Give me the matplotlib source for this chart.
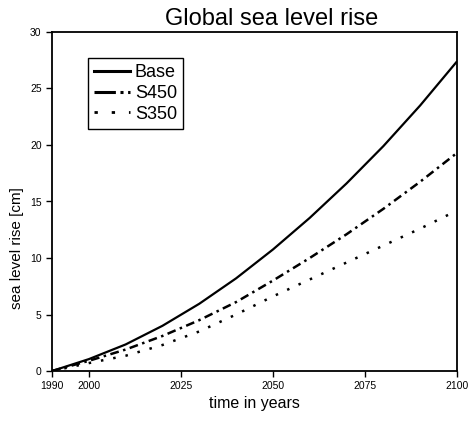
import matplotlib
matplotlib.use("Agg")
import matplotlib.pyplot as plt
from matplotlib.lines import Line2D

plt.rcParams['font.family'] = ['Liberation Sans', 'DejaVu Sans']

years = [1990, 2000, 2010, 2020, 2030, 2040, 2050, 2060, 2070, 2080, 2090, 2100]
base = [0, 1.05, 2.35, 4.0, 5.95, 8.2, 10.75, 13.55, 16.6, 19.9, 23.5, 27.4]
s450 = [0, 0.9, 1.9, 3.1, 4.5, 6.1, 8.0, 10.0, 12.1, 14.35, 16.75, 19.3]
s350 = [0, 0.7, 1.35, 2.3, 3.5, 5.0, 6.6, 8.1, 9.6, 11.1, 12.6, 14.2]
labels = ['Base', 'S450', 'S350']
xticks = [1990, 2000, 2025, 2050, 2075, 2100]
yticks = [0, 5, 10, 15, 20, 25, 30]

fig = plt.figure(figsize=(4.71, 4.23), dpi=100)
ax = fig.add_axes([52/471, 1-371/423, 405/471, 339/423])

ax.plot(years, base, color='black', lw=1.6, solid_capstyle='butt')
ax.plot(years, s450, color='black', lw=1.8, dashes=(3.5, 1.8, 1.0, 1.8))
ax.plot(years, s350, color='black', lw=1.8, dashes=(1.0, 4.0))

ax.set_xlim(1990, 2100)
ax.set_ylim(0, 30)
ax.set_xticks(xticks)
ax.set_yticks(yticks)
ax.tick_params(direction='out', length=4, labelsize=7.5, width=1)
for s in ax.spines.values():
    s.set_linewidth(1.3)

fig.text(271.5/471, 1-25/423, 'Global sea level rise', fontsize=17,
         ha='center', va='baseline')
ax.set_xlabel('time in years', fontsize=11.5, labelpad=3)
ax.set_ylabel('sea level rise [cm]', fontsize=11)
ax.yaxis.set_label_coords(-0.07, 0.363)

handles = [
    Line2D([], [], color='black', lw=2.2),
    Line2D([], [], color='black', lw=2.2, dashes=(7, 1.5, 1, 1.5, 1, 1.5)),
    Line2D([], [], color='black', lw=2.0, dashes=(1.2, 5.0)),
]
leg = ax.legend(handles, labels, loc='upper left',
                bbox_to_anchor=(0.089, 0.923), fontsize=13,
                handlelength=2.0, handletextpad=0.25, labelspacing=0.2,
                borderpad=0.35, borderaxespad=0, fancybox=False, framealpha=1)
leg.get_frame().set_edgecolor('black')
leg.get_frame().set_linewidth(1.0)

fig.savefig('out.png', dpi=100)
